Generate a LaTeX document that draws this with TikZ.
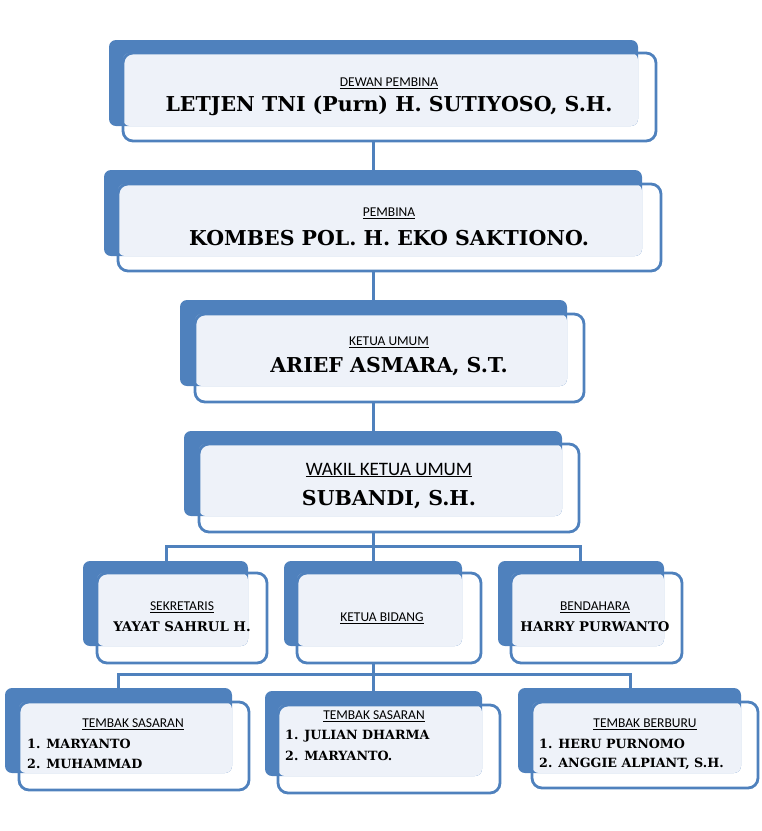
\documentclass[tikz,border=0pt]{standalone}
\usepackage{fontspec}
\setmainfont{DejaVu Serif}
\newfontfamily\labelfont{Carlito}
\definecolor{boxblue}{HTML}{4F81BD}
\definecolor{boxlight}{HTML}{EEF2F9}
\tikzset{
  rank/.style={font=\labelfont\fontsize{13.5}{15}\selectfont, inner sep=0pt},
  holder/.style={font=\bfseries\fontsize{20.5}{23}\selectfont, inner sep=0pt},
  member/.style={font=\bfseries\fontsize{12.7}{14}\selectfont, inner sep=0pt, anchor=west},
  link/.style={boxblue, line width=3pt}
}
% back box, light overlap, framed front box
\newcommand\orgbox[9]{%
  \fill[boxblue, rounded corners=7pt] (#2,#3) rectangle (#4,#5);
  \fill[boxlight, rounded corners=7pt] (#6,#7) rectangle (#4,#5);
  \draw[boxblue, line width=2.8pt, rounded corners=10pt] (#6,#7) rectangle (#8,#9);
  \coordinate (#1top) at ({(#2+#4)/2},#3);
  \coordinate (#1bot) at ({(#6+#8)/2},#9);
}
\begin{document}
\begin{tikzpicture}[x=1pt,y=-1pt]
\useasboundingbox (0,0) rectangle (762,831);
\coordinate (spine) at (373,0);

\orgbox{pembina0}{109}{40}{638}{126}{123}{53}{656}{141}
\orgbox{pembina}{104}{170}{642}{256}{118}{184}{661}{271}
\orgbox{ketua}{180}{300}{567}{386}{195}{314}{584}{402}
\orgbox{wakil}{184}{431}{562}{516}{199}{444}{579}{532}
\orgbox{sekr}{83}{561}{248}{646}{97}{573}{267}{663}
\orgbox{bidang}{284}{561}{462}{646}{297}{573}{481}{663}
\orgbox{bendahara}{498}{561}{664}{646}{511}{573}{682}{663}
\orgbox{sasaranA}{5}{688}{232}{773}{19}{702}{249}{790}
\orgbox{sasaranB}{265}{691}{482}{776}{278}{705}{500}{793}
\orgbox{buru}{518}{688}{741}{773}{532}{702}{758}{788}

% connectors
\draw[link] (pembina0bot -| spine) -- (pembinatop -| spine);
\draw[link] (pembinabot -| spine) -- (ketuatop -| spine);
\draw[link] (ketuabot -| spine) -- (wakiltop -| spine);
\coordinate (bar1) at (373,546);
\coordinate (bar2) at (373,674);
\draw[link] (wakilbot -| spine) -- (bar1);
\draw[link] (sekrtop -| 166,0) |- (bar1 -| 580,0) -- (bendaharatop -| 580,0);
\draw[link] (bar1) -- (bidangtop -| spine);
\draw[link] (bidangbot -| spine) -- (bar2);
\draw[link] (sasaranAtop -| 118,0) |- (bar2 -| 630,0) -- (burutop -| 630,0);
\draw[link] (bar2) -- (sasaranBtop -| spine);

% texts
\node[rank] (lab1) at (389,83) {\underline{DEWAN PEMBINA}};
\node[holder] (nam1) at (389,106) {LETJEN TNI (Purn) H. SUTIYOSO, S.H.};
\node[rank] (lab2) at (389,213) {\underline{PEMBINA}};
\node[holder] (nam2) at (389,238) {KOMBES POL. H. EKO SAKTIONO.};
\node[rank] (lab3) at (389,342) {\underline{KETUA UMUM}};
\node[holder] (nam3) at (389,367) {ARIEF ASMARA, S.T.};
\node[rank, font=\labelfont\fontsize{19}{21}\selectfont] (lab4) at (389,470) {\underline{WAKIL KETUA UMUM}};
\node[holder] (nam4) at (389,500) {SUBANDI, S.H.};
\node[rank] (lab5) at (182,607) {\underline{SEKRETARIS}};
\node[holder, font=\bfseries\fontsize{13.3}{15}\selectfont] (nam5) at (182,627) {YAYAT SAHRUL H.};
\node[rank] (lab6) at (382,618) {\underline{KETUA BIDANG}};
\node[rank] (lab7) at (595,607) {\underline{BENDAHARA}};
\node[holder, font=\bfseries\fontsize{13.3}{15}\selectfont] (nam7) at (595,627) {HARRY PURWANTO};
\node[rank] (lab8) at (133,724) {\underline{TEMBAK SASARAN}};
\node[member] (m81) at (27,744) {1. MARYANTO};
\node[member] (m82) at (27,764) {2. MUHAMMAD};
\node[rank] (lab9) at (374,716) {\underline{TEMBAK SASARAN}};
\node[member] (m91) at (285,736) {1. JULIAN DHARMA};
\node[member] (m92) at (285,756) {2. MARYANTO.};
\node[rank] (lab10) at (645,724) {\underline{TEMBAK BERBURU}};
\node[member] (m101) at (539,744) {1. HERU PURNOMO};
\node[member] (m102) at (539,764) {2. ANGGIE ALPIANT, S.H.};
\end{tikzpicture}
\end{document}
